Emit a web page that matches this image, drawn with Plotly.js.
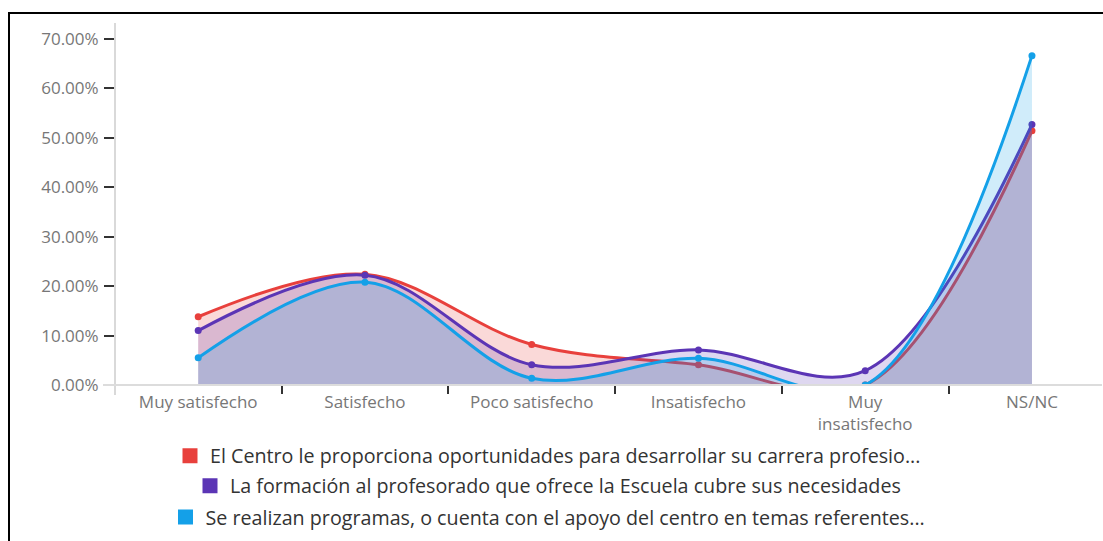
<!DOCTYPE html>
<html>
<head>
<meta charset="utf-8">
<script src="https://cdn.plot.ly/plotly-3.0.1.min.js"></script>
<style>
  html, body { margin: 0; padding: 0; background: #fff; }
  #wrap { position: relative; width: 1103px; height: 541px; overflow: hidden; }
  #chart { position: absolute; left: 0; top: 0; width: 1103px; height: 541px; }
  #frame { position: absolute; left: 8px; top: 12px; width: 1200px; height: 600px;
           border-top: 2px solid #000; border-left: 2px solid #000; pointer-events: none; }
</style>
</head>
<body>
<div id="wrap">
  <div id="chart"></div>
  <div id="frame"></div>
</div>
<script>
// Categories (x axis)
const categories = ['Muy satisfecho', 'Satisfecho', 'Poco satisfecho', 'Insatisfecho', 'Muy<br>insatisfecho', 'NS/NC'];

// Series names
const seriesNames = [
  'El Centro le proporciona oportunidades para desarrollar su carrera profesio...',
  'La formación al profesorado que ofrece la Escuela cubre sus necesidades',
  'Se realizan programas, o cuenta con el apoyo del centro en temas referentes...'
];

// Series values (fractions)
const centroValues    = [0.138, 0.224, 0.082, 0.041, 0.000, 0.514];
const formacionValues = [0.110, 0.222, 0.041, 0.071, 0.029, 0.527];
const programasValues = [0.055, 0.208, 0.0135, 0.054, 0.000, 0.666];

const colors = ['#e8403c', '#5b35b5', '#14a0e8'];
const fills  = ['rgba(232,64,60,0.2)', 'rgba(91,53,181,0.2)', 'rgba(20,160,232,0.2)'];
const legendIds = ['legend', 'legend2', 'legend3'];
const allValues = [centroValues, formacionValues, programasValues];

const traces = [];
allValues.forEach((vals, i) => {
  traces.push({
    type: 'scatter',
    mode: 'lines+markers',
    x: categories,
    y: vals,
    fill: 'tozeroy',
    fillcolor: fills[i],
    line: { color: colors[i], width: 3, shape: 'spline', smoothing: 1 },
    marker: { color: colors[i], size: 7 },
    showlegend: false,
    hoverinfo: 'x+y'
  });
});
// Legend-only entries with square swatches
allValues.forEach((vals, i) => {
  traces.push({
    type: 'scatter',
    mode: 'markers',
    x: [null],
    y: [null],
    name: seriesNames[i],
    marker: { color: colors[i], size: 15, symbol: 'square' },
    showlegend: true,
    legend: legendIds[i]
  });
});

const tickFont = { family: 'Open Sans, sans-serif', size: 17, color: '#777' };
const legendBase = {
  xanchor: 'center', yanchor: 'middle', x: 0.4387,
  bgcolor: 'rgba(0,0,0,0)', borderwidth: 0,
  font: { family: 'Open Sans, sans-serif', size: 19.7, color: '#333' }
};

const layout = {
  width: 1103, height: 541,
  margin: { l: 115, r: 1, t: 23, b: 156 },
  paper_bgcolor: '#fff', plot_bgcolor: '#fff',
  font: { family: 'Open Sans, sans-serif' },
  xaxis: {
    type: 'category',
    range: [-0.499, 5.42],
    showgrid: false, zeroline: false, showline: false,
    ticks: 'outside', tickson: 'boundaries', ticklen: 8, tickwidth: 2, tickcolor: '#333',
    ticklabelstandoff: 5,
    tickfont: tickFont
  },
  yaxis: {
    range: [0, 0.732],
    tickformat: '.2%', dtick: 0.1, tick0: 0,
    showgrid: false, zeroline: false, showline: false,
    ticks: 'outside', ticklen: 10, tickwidth: 2, tickcolor: '#333',
    ticklabelstandoff: 2,
    tickfont: tickFont
  },
  legend:  Object.assign({}, legendBase, { y: -0.196 }),
  legend2: Object.assign({}, legendBase, { y: -0.279 }),
  legend3: Object.assign({}, legendBase, { y: -0.365 }),
  shapes: [
    { type: 'line', xref: 'paper', yref: 'paper', x0: 0, x1: 0, y0: -10/362, y1: 1,
      line: { color: '#d9d9d9', width: 2 } },
    { type: 'line', xref: 'paper', yref: 'paper', x0: -12/987, x1: 1, y0: 0, y1: 0,
      line: { color: '#dcdcdc', width: 2 } }
  ]
};

Plotly.newPlot('chart', traces, layout, { displayModeBar: false, staticPlot: true });
</script>
</body>
</html>
